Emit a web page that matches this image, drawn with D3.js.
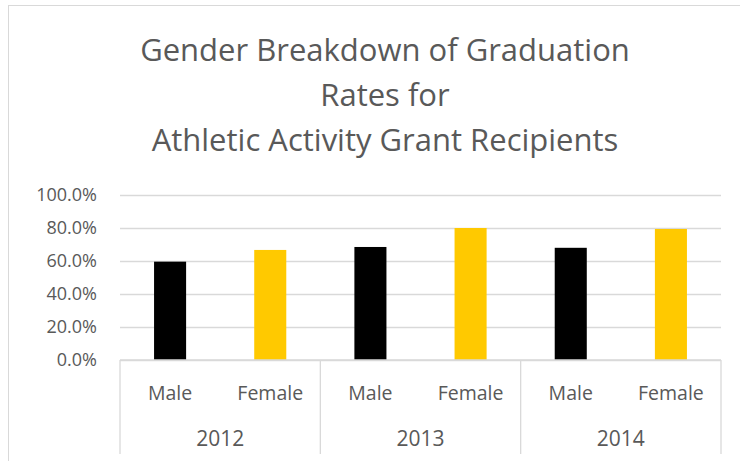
<!DOCTYPE html>
<html>
<head>
<meta charset="utf-8">
<script src="https://cdn.jsdelivr.net/npm/d3@7"></script>
<style>
  body { margin: 0; background: #fff; }
  svg text { font-family: "Open Sans", sans-serif; fill: #595959; }
</style>
</head>
<body>
<svg id="chart" width="740" height="461"></svg>
<script>
// chart data
var years = ["2012", "2013", "2014"];
var genders = ["Male", "Female"];
var maleRates = [0.596, 0.685, 0.680];
var femaleRates = [0.667, 0.800, 0.794];
var yTicks = [0, 0.2, 0.4, 0.6, 0.8, 1.0];
var titleLines = ["Gender Breakdown of Graduation", "Rates for", "Athletic Activity Grant Recipients"];

var margin = {top: 195, right: 19, bottom: 101, left: 120},
    width = 740 - margin.left - margin.right,
    height = 461 - margin.top - margin.bottom;

var svg = d3.select("#chart");

// chart area border (runs off the right and bottom of the picture)
svg.append("rect")
  .attr("x", 8.5).attr("y", 5.5)
  .attr("width", 900).attr("height", 600)
  .attr("fill", "none")
  .attr("stroke", "#d9d9d9");

// title
svg.append("g").selectAll("text")
  .data(titleLines)
  .enter().append("text")
    .attr("x", 385)
    .attr("y", function(d, i) { return 61 + i * 45; })
    .attr("text-anchor", "middle")
    .style("font-size", "31px")
    .text(function(d) { return d; });

var g = svg.append("g")
  .attr("transform", "translate(" + margin.left + "," + margin.top + ")");

var x0 = d3.scaleBand().domain(years).range([0, width]);
var x1 = d3.scaleBand().domain(genders).range([0, x0.bandwidth()])
  .paddingInner(0.68).paddingOuter(0.34);
var y = d3.scaleLinear().domain([0, 1]).range([height, 0]);

// gridlines
g.append("g")
  .attr("class", "grid")
  .call(d3.axisLeft(y).tickValues(yTicks).tickSize(-width).tickFormat(""))
  .call(function(s) {
    s.select(".domain").remove();
    s.selectAll("line").attr("stroke", "#d9d9d9").attr("stroke-width", 1.3);
  });

// y axis labels
g.append("g")
  .call(d3.axisLeft(y).tickValues(yTicks).tickSize(0).tickPadding(23).tickFormat(d3.format(".1%")))
  .call(function(s) {
    s.select(".domain").remove();
    s.selectAll("text")
      .style("font-size", "18px")
      .attr("fill", "#595959");
  });

// bars
var rows = years.map(function(yr, i) {
  return {year: yr, values: [{g: "Male", v: maleRates[i]}, {g: "Female", v: femaleRates[i]}]};
});
var color = d3.scaleOrdinal().domain(genders).range(["#000000", "#ffc900"]);

var grp = g.selectAll(".year")
  .data(rows)
  .enter().append("g")
    .attr("class", "year")
    .attr("transform", function(d) { return "translate(" + x0(d.year) + ",0)"; });

grp.selectAll("rect")
  .data(function(d) { return d.values; })
  .enter().append("rect")
    .attr("x", function(d) { return x1(d.g); })
    .attr("width", x1.bandwidth())
    .attr("y", function(d) { return y(d.v); })
    .attr("height", function(d) { return height - y(d.v); })
    .attr("fill", function(d) { return color(d.g); });

// category labels
grp.selectAll(".cat")
  .data(function(d) { return d.values; })
  .enter().append("text")
    .attr("class", "cat")
    .attr("x", function(d) { return x1(d.g) + x1.bandwidth() / 2; })
    .attr("y", height + 40)
    .attr("text-anchor", "middle")
    .style("font-size", "19.5px")
    .text(function(d) { return d.g; });

// year labels
grp.append("text")
  .attr("x", x0.bandwidth() / 2)
  .attr("y", height + 86)
  .attr("text-anchor", "middle")
  .style("font-size", "21px")
  .text(function(d) { return d.year; });

// multi-level axis lines
g.append("line")
  .attr("x1", 0).attr("x2", width)
  .attr("y1", height).attr("y2", height)
  .attr("stroke", "#d9d9d9").attr("stroke-width", 1.3);

var seps = years.map(function(yr) { return x0(yr); }).concat([width]);
g.selectAll(".sep")
  .data(seps)
  .enter().append("line")
    .attr("class", "sep")
    .attr("x1", function(d) { return d; }).attr("x2", function(d) { return d; })
    .attr("y1", height).attr("y2", height + 94)
    .attr("stroke", "#d9d9d9").attr("stroke-width", 1.3);
</script>
</body>
</html>
